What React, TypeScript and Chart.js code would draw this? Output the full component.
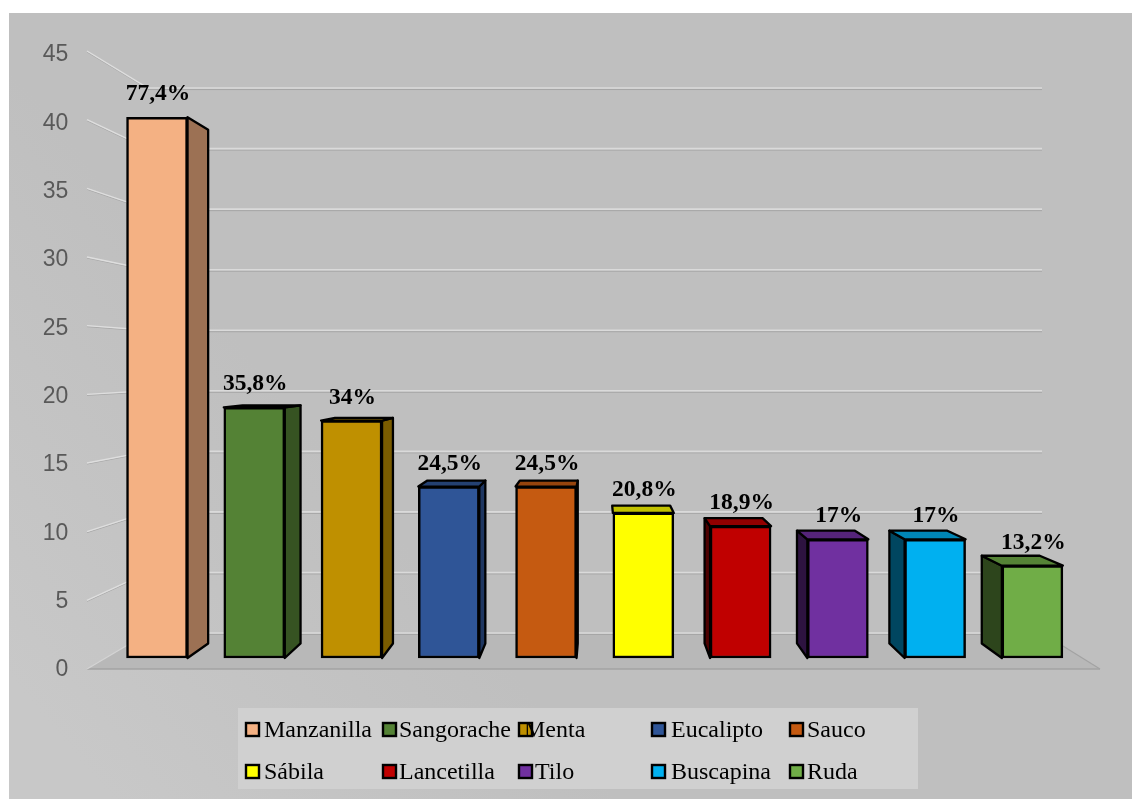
import React, { useEffect, useRef } from "react";
import { Chart, registerables } from "chart.js";

Chart.register(...registerables);

const categories = ["Manzanilla", "Sangorache", "Menta", "Eucalipto", "Sauco", "Sábila", "Lancetilla", "Tilo", "Buscapina", "Ruda"];
const counts = [41, 19, 18, 13, 13, 11, 10, 9, 9, 7];
const percentLabels = ["77,4%", "35,8%", "34%", "24,5%", "24,5%", "20,8%", "18,9%", "17%", "17%", "13,2%"];
const frontColors = ["#F4B183", "#548235", "#BF9000", "#2F5597", "#C55A11", "#FFFF00", "#C00000", "#7030A0", "#00B0F0", "#70AD47"];
const yTicks = [0, 5, 10, 15, 20, 25, 30, 35, 40, 45];

const W = 1132, H = 799;
const AREA = { left: 108.4, right: 1081, top: 55, bottom: 670 };
const range = (zero: number, ppu: number) => ({ min: -(AREA.bottom - zero) / ppu, max: (zero - AREA.top) / ppu });
const K = 0.05, VX = 600, VY = 367;
const back = (x: number, y: number): [number, number] => [x + K * (VX - x), y + K * (VY - y)];

const shade = (hex: string, f: number) => {
  const n = parseInt(hex.slice(1), 16);
  const c = (s: number) => Math.round(((n >> s) & 255) * f);
  return `rgb(${c(16)},${c(8)},${c(0)})`;
};

const poly = (ctx: CanvasRenderingContext2D, pts: [number, number][], fill: string | null, stroke: string | null, lw = 1) => {
  ctx.beginPath();
  pts.forEach((p, i) => (i ? ctx.lineTo(p[0], p[1]) : ctx.moveTo(p[0], p[1])));
  ctx.closePath();
  if (fill) { ctx.fillStyle = fill; ctx.fill(); }
  if (stroke) { ctx.strokeStyle = stroke; ctx.lineWidth = lw; ctx.lineJoin = "round"; ctx.stroke(); }
};

const seg = (ctx: CanvasRenderingContext2D, x1: number, y1: number, x2: number, y2: number, color: string, lw = 1) => {
  ctx.beginPath(); ctx.moveTo(x1, y1); ctx.lineTo(x2, y2);
  ctx.strokeStyle = color; ctx.lineWidth = lw; ctx.stroke();
};

const backdrop = {
  id: "backdrop",
  beforeDraw(chart: any) {
    const { ctx, scales } = chart;
    ctx.save();
    ctx.fillStyle = "#ffffff";
    ctx.fillRect(0, 0, W, H);
    const g = ctx.createLinearGradient(120, 810, 420, 560);
    g.addColorStop(0, "#c8c8c8"); g.addColorStop(1, "#bfbfbf");
    ctx.fillStyle = g;
    ctx.fillRect(9, 13, W - 9, H - 13);

    const wall = scales.yWall, rear = scales.yBack;
    const backL = 148, backR = 1042, frontL = 87, frontR = 1100;
    const y0f = wall.getPixelForValue(0), y0b = rear.getPixelForValue(0);
    poly(ctx, [[frontL, y0f], [frontR, y0f], [backR, y0b], [backL, y0b]], "#b8b8b8", null);
    yTicks.forEach((v) => {
      const yb = rear.getPixelForValue(v), yf = wall.getPixelForValue(v);
      if (v > 0) {
        seg(ctx, frontL, yf + 1, backL, yb + 1, "#a9a9a9", 1);
        seg(ctx, frontL, yf, backL, yb, "#dedede", 1.4);
      }
      seg(ctx, backL, yb + 1.5, backR, yb + 1.5, "#a6a6a6", 1);
      seg(ctx, backL, yb, backR, yb, "#dadada", 1.6);
    });
    seg(ctx, frontL, y0f, frontR, y0f, "#a3a3a3", 1.4);
    seg(ctx, frontL, y0f, backL, y0b, "#d4d4d4", 1.2);
    seg(ctx, frontR, y0f, backR, y0b, "#a3a3a3", 1.2);
    ctx.restore();
  },
  beforeDatasetsDraw(chart: any) {
    const { ctx } = chart;
    ctx.save();
    chart.getDatasetMeta(0).data.forEach((bar: any, i: number) => {
      const hw = bar.width / 2;
      const l = bar.x - hw, r = bar.x + hw, t = bar.y, b = bar.base;
      const c = frontColors[i];
      const bTL = back(l, t), bTR = back(r, t), bBL = back(l, b), bBR = back(r, b);
      if (bTR[0] > r + 0.5) poly(ctx, [[r, t], bTR, bBR, [r, b]], shade(c, 0.64), "#000", 2.3);
      if (bTL[0] < l - 1.5) poly(ctx, [[l, t], bTL, bBL, [l, b]], shade(c, 0.4), "#000", 2.3);
      if (bTL[1] < t) poly(ctx, [[l, t], bTL, bTR, [r, t]], shade(c, 0.76), "#000", 2.3);
    });
    ctx.restore();
  },
  afterDatasetsDraw(chart: any) {
    const { ctx } = chart;
    ctx.save();
    ctx.fillStyle = "#000";
    ctx.textAlign = "center";
    ctx.textBaseline = "alphabetic";
    ctx.font = "bold 23.5px 'Liberation Serif'";
    chart.getDatasetMeta(0).data.forEach((bar: any, i: number) => {
      ctx.fillText(percentLabels[i], bar.x + 1, bar.y - 17);
    });

    // legend
    ctx.fillStyle = "#d0d0d0";
    ctx.fillRect(238, 708, 680, 81);
    const swatchX = [246, 383, 519, 652, 790];
    const textX = [264, 399, 535, 671, 807];
    ctx.font = "24px 'Liberation Serif'";
    ctx.textAlign = "left";
    categories.forEach((name, i) => {
      const col = i % 5, row = Math.floor(i / 5);
      const sy = row ? 765 : 723;
      ctx.fillStyle = frontColors[i];
      ctx.strokeStyle = "#000";
      ctx.lineWidth = 2.4;
      ctx.fillRect(swatchX[col], sy, 13, 13);
      ctx.strokeRect(swatchX[col], sy, 13, 13);
      ctx.fillStyle = "#000";
      const tx = name === "Menta" ? 524 : textX[col];
      ctx.fillText(name, tx, row ? 779 : 737);
    });
    ctx.restore();
  },
};

export default function App() {
  const ref = useRef<HTMLCanvasElement>(null);
  useEffect(() => {
    document.body.style.margin = "0";
    const chart = new Chart(ref.current!, {
      type: "bar",
      data: {
        labels: categories,
        datasets: [{
          data: counts,
          yAxisID: "yBars",
          backgroundColor: frontColors,
          borderColor: "#000",
          borderWidth: 2.5,
          borderSkipped: false,
          barThickness: 61,
        }],
      },
      options: {
        responsive: false,
        animation: false,
        layout: { padding: { left: 0, top: AREA.top, right: W - AREA.right, bottom: H - AREA.bottom } },
        plugins: { legend: { display: false }, tooltip: { enabled: false } },
        scales: {
          x: { display: false, grid: { display: false } },
          y: {
            position: "left",
            min: 0,
            max: 45,
            afterFit(s: any) { s.width = AREA.left; },
            afterBuildTicks(s: any) { s.ticks = yTicks.map((value) => ({ value })); },
            grid: { display: false },
            border: { display: false },
            ticks: {
              padding: 32,
              color: "#595959",
              font: { family: "'Liberation Sans'", size: 23 },
            },
          },
          yBars: { display: false, ...range(658, 13.19) },
          yBack: { display: false, ...range(633, 12.11) },
          yWall: { display: false, ...range(669, 13.733) },
        },
      },
      plugins: [backdrop],
    } as any);
    return () => chart.destroy();
  }, []);
  return <canvas ref={ref} width={W} height={H} style={{ display: "block", width: W, height: H }} />;
}
